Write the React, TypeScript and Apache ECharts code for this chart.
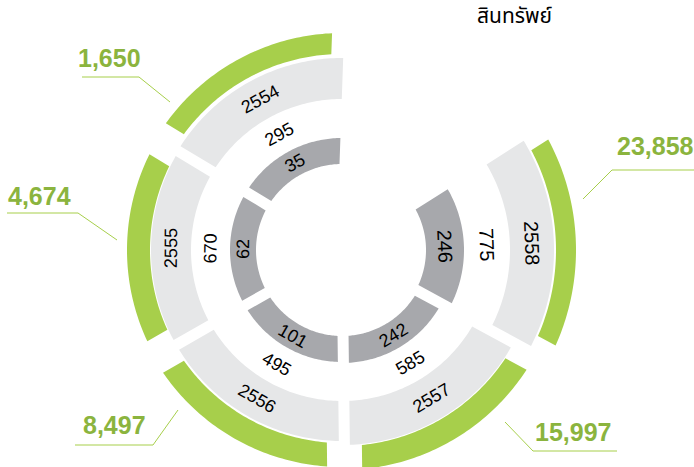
import React, { useEffect, useRef } from 'react';
import * as echarts from 'echarts';

// ---- data ----
const years = ['2554', '2555', '2556', '2557', '2558'];
const totalAssets = [1650, 4674, 8497, 15997, 23858];
const middleValues = [295, 670, 495, 585, 775];
const innerValues = [35, 62, 101, 242, 246];
const title = 'สินทรัพย์';

// ---- layout / style (px) ----
const CENTER: [number, number] = [342, 250];
const SLOT_DEG = 60.9;
const START_ANGLE = 88;
const DARK_R = [[86, 112], [86, 112], [86, 112], [86, 113], [84, 122]];
const GRAY_R = [[151, 192], [151, 191], [151, 191], [151, 195], [168, 212]];
const GREEN_R = [[196, 217], [192, 215], [193, 217], [196, 220], [214, 234]];
const FONT_SIZE = [18, 18, 18, 18, 20];
const GAP_HALF = 5.5;
const GREEN_GAP_HALF = 17.5;
const VALUE_LABELS = [
  { x: 78, y: 58, line: [[82, 77], [139, 77], [170, 102]] },
  { x: 8, y: 196, line: [[7, 213], [78, 213], [117, 240]] },
  { x: 83, y: 425, line: [[75, 445], [153, 445], [178, 410]] },
  { x: 535, y: 432, line: [[505, 422], [533, 451], [617, 451]] },
  { x: 617, y: 146, line: [[583, 199], [612, 170], [694, 170]] },
];
const COLORS = {
  dark: '#a7a8ac',
  light: '#e6e7e8',
  green: '#a7cf4b',
  greenText: '#8bb43e',
  text: '#000000',
};
const FONT = '"Liberation Sans", Arial, Helvetica, sans-serif';

export default function App() {
  const ref = useRef<HTMLDivElement>(null);
  useEffect(() => {
    if (!ref.current) return;
    const chart = echarts.init(ref.current, undefined, { renderer: 'svg' });

    const renderItem = (params: any, api: any) => {
      const i = params.dataIndex;
      const cx = params.coordSys.cx;
      const cy = params.coordSys.cy;
      const unit = api.size([0, 1])[1]; // radians of one slot
      const band = (r0: number, r1: number, halfGap: number, fill: string) => {
        const off = (r: number) => Math.asin(Math.min(1, halfGap / r)) / unit;
        const pts: number[][] = [];
        const N = 60;
        const o1 = off(r1);
        for (let k = 0; k <= N; k++) {
          const a = i + o1 + (1 - 2 * o1) * (k / N);
          const p = api.coord([r1, a]);
          pts.push([p[0], p[1]]);
        }
        const o0 = off(r0);
        for (let k = N; k >= 0; k--) {
          const a = i + o0 + (1 - 2 * o0) * (k / N);
          const p = api.coord([r0, a]);
          pts.push([p[0], p[1]]);
        }
        return { type: 'polygon', shape: { points: pts }, style: { fill } };
      };
      const mid = i + 0.5;
      const pm = api.coord([100, mid]);
      let th = Math.atan2(cy - pm[1], pm[0] - cx);
      if (th < 0) th += Math.PI * 2;
      const rot = Math.sin(th) >= -1e-6 ? th - Math.PI / 2 : th + Math.PI / 2;
      const text = (r: number, str: string) => {
        const p = api.coord([r, mid]);
        return {
          type: 'text',
          x: p[0],
          y: p[1],
          rotation: rot,
          style: {
            text: str,
            fill: COLORS.text,
            font: `${FONT_SIZE[i]}px ${FONT}`,
            align: 'center',
            verticalAlign: 'middle',
            textAlign: 'center',
            textVerticalAlign: 'middle',
          },
        };
      };
      const [d0, d1] = DARK_R[i];
      const [g0, g1] = GRAY_R[i];
      const [e0, e1] = GREEN_R[i];
      const lab = VALUE_LABELS[i];
      return {
        type: 'group',
        children: [
          band(d0, d1, GAP_HALF, COLORS.dark),
          band(g0, g1, GAP_HALF, COLORS.light),
          band(e0, e1, GREEN_GAP_HALF, COLORS.green),
          text((d0 + d1) / 2, String(innerValues[i])),
          text((d1 + g0) / 2, String(middleValues[i])),
          text((g0 + g1) / 2, years[i]),
          {
            type: 'polyline',
            shape: { points: lab.line },
            style: { stroke: COLORS.green, lineWidth: 1, fill: null },
          },
          {
            type: 'text',
            x: lab.x,
            y: lab.y,
            style: {
              text: totalAssets[i].toLocaleString('en-US'),
              fill: COLORS.greenText,
              font: `bold 25px ${FONT}`,
              align: 'left',
              verticalAlign: 'middle',
              textAlign: 'left',
              textVerticalAlign: 'middle',
            },
          },
        ],
      };
    };

    chart.setOption({
      animation: false,
      polar: { center: CENTER, radius: [0, 240] },
      angleAxis: {
        type: 'value',
        min: 0,
        max: 360 / SLOT_DEG,
        startAngle: START_ANGLE,
        clockwise: false,
        show: false,
      },
      radiusAxis: { type: 'value', min: 0, max: 240, show: false },
      graphic: [
        {
          type: 'text',
          left: 477,
          top: 6,
          style: {
            text: title,
            fill: COLORS.text,
            font: `21px "Noto Sans Thai", "Noto Sans", "DejaVu Sans", sans-serif`,
          },
        },
      ],
      series: [
        {
          type: 'custom',
          coordinateSystem: 'polar',
          data: years.map((_, i) => [0, i]),
          renderItem,
        },
      ],
    });
    return () => chart.dispose();
  }, []);
  return (
    <div
      ref={ref}
      style={{ position: 'fixed', left: 0, top: 0, width: 694, height: 467, background: '#fff' }}
    />
  );
}
